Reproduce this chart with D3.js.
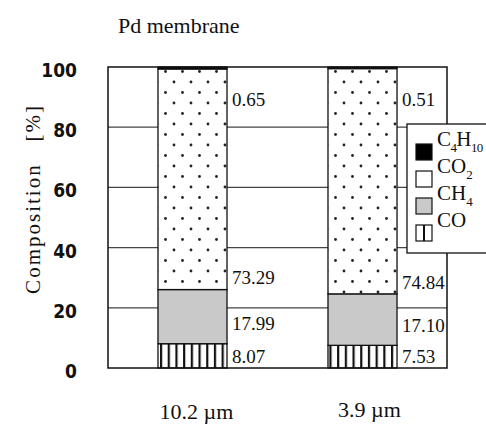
<!DOCTYPE html>
<html>
<head>
<meta charset="utf-8">
<script src="https://cdn.jsdelivr.net/npm/d3@7"></script>
<style>
  body { margin: 0; background: #fff; }
  svg { display: block; }
  .serif { font-family: "Liberation Serif", "DejaVu Serif", serif; fill: #111; }
  .tick-label { font-family: "DejaVu Sans Condensed", "Liberation Sans", Arial, sans-serif; font-weight: bold; font-size: 19px; fill: #111; }
</style>
</head>
<body>
<svg id="chart" width="486" height="430"></svg>
<script>
// data
const samples = ['10.2 \u00b5m', '3.9 \u00b5m']
const gases = ['CO', 'CH4', 'CO2', 'C4H10']
const coValues = [8.07, 7.53]
const ch4Values = [17.99, 17.10]
const co2Values = [73.29, 74.84]
const c4h10Values = [0.65, 0.51]
const yTicks = [0, 20, 40, 60, 80, 100]

const svg = d3.select('#chart')
const margin = {left: 108, right: 39, top: 67, bottom: 62}
const width = 486 - margin.left - margin.right
const height = 430 - margin.top - margin.bottom

const rows = samples.map((s, i) => ({
    sample: s,
    CO: coValues[i],
    CH4: ch4Values[i],
    CO2: co2Values[i],
    C4H10: c4h10Values[i]
}))
const stacked = d3.stack().keys(gases)(rows)

const x = d3.scaleBand()
    .domain(samples)
    .range([margin.left, margin.left + width])
    .paddingInner(0.594)
    .paddingOuter(0.294)

const y = d3.scaleLinear()
    .domain([0, 100])
    .range([margin.top + height, margin.top])

// patterns
const defs = svg.append('defs')
const dots = defs.append('pattern')
    .attr('id', 'dots')
    .attr('patternUnits', 'userSpaceOnUse')
    .attr('width', 17).attr('height', 21)
    .attr('x', x(samples[0]) + 6).attr('y', margin.top + 3)
dots.append('rect').attr('width', 17).attr('height', 21).attr('fill', '#fff')
dots.append('circle').attr('cx', 1.5).attr('cy', 1.5).attr('r', 1.4).attr('fill', '#222')
dots.append('circle').attr('cx', 10).attr('cy', 12).attr('r', 1.4).attr('fill', '#222')

const stripes = defs.append('pattern')
    .attr('id', 'stripes')
    .attr('patternUnits', 'userSpaceOnUse')
    .attr('width', 7.7).attr('height', 10)
    .attr('x', x(samples[0]) + 2)
stripes.append('rect').attr('width', 7.7).attr('height', 10).attr('fill', '#fff')
stripes.append('rect').attr('x', 0).attr('width', 2.2).attr('height', 10).attr('fill', '#111')

const legendStripe = defs.append('pattern')
    .attr('id', 'legend-stripe')
    .attr('patternUnits', 'userSpaceOnUse')
    .attr('width', 16).attr('height', 16)
    .attr('x', 416).attr('y', 0)
legendStripe.append('rect').attr('width', 16).attr('height', 16).attr('fill', '#fff')
legendStripe.append('rect').attr('x', 7).attr('width', 2).attr('height', 16).attr('fill', '#111')

const fills = {CO: 'url(#stripes)', CH4: '#c9c9c9', CO2: 'url(#dots)', C4H10: '#000'}
const legendFills = {CO: 'url(#legend-stripe)', CH4: '#c9c9c9', CO2: '#fff', C4H10: '#000'}

// gridlines
svg.append('g')
    .selectAll('line')
    .data(yTicks.filter(d => d > 0 && d < 100))
    .enter()
    .append('line')
    .attr('x1', margin.left).attr('x2', margin.left + width)
    .attr('y1', d => y(d)).attr('y2', d => y(d))
    .attr('stroke', '#444').attr('stroke-width', 1.2)

// y axis labels
const yAxis = d3.axisLeft(y).tickValues(yTicks).tickSize(0).tickPadding(31)
svg.append('g')
    .attr('transform', 'translate(' + margin.left + ',0)')
    .call(yAxis)
    .call(g => g.select('.domain').remove())
    .call(g => g.attr('font-family', null).attr('font-size', null))
    .selectAll('text')
    .attr('class', 'tick-label')
    .attr('dy', '0.5em')

// bars
svg.append('g')
    .selectAll('g')
    .data(stacked)
    .enter()
    .append('g')
    .attr('fill', d => fills[d.key])
    .selectAll('rect')
    .data(d => d)
    .enter()
    .append('rect')
    .attr('x', d => x(d.data.sample))
    .attr('width', x.bandwidth())
    .attr('y', d => y(d[1]))
    .attr('height', d => y(d[0]) - y(d[1]))
    .attr('stroke', '#111')
    .attr('stroke-width', 1.3)

// value labels
const labelShift = {CO: -12, CH4: -20, CO2: -12}
stacked.forEach(function(layer){
    svg.append('g')
        .selectAll('text')
        .data(layer)
        .enter()
        .append('text')
        .attr('class', 'serif')
        .attr('x', d => x(d.data.sample) + x.bandwidth() + 5)
        .attr('y', function(d){
            if (layer.key == 'C4H10'){
                return y(100) + 32
            }
            return y(d[0]) + labelShift[layer.key]
        })
        .attr('dy', '0.35em')
        .style('font-size', '19px')
        .text(d => (d[1] - d[0]).toFixed(2))
})

// frame
svg.append('rect')
    .attr('x', margin.left).attr('y', margin.top)
    .attr('width', width).attr('height', height)
    .attr('fill', 'none').attr('stroke', '#111').attr('stroke-width', 1.5)

// x labels
svg.append('g')
    .selectAll('text')
    .data(samples)
    .enter()
    .append('text')
    .attr('class', 'serif')
    .attr('x', (d, i) => x(d) + x.bandwidth() / 2 + (i == 0 ? 4 : 7))
    .attr('y', (d, i) => i == 0 ? 419 : 417)
    .attr('text-anchor', 'middle')
    .style('font-size', '22px')
    .text(d => d)

// title
svg.append('text')
    .attr('class', 'serif')
    .attr('x', 118).attr('y', 33)
    .style('font-size', '22px')
    .text('Pd membrane')

// y axis title
svg.append('text')
    .attr('class', 'serif')
    .attr('transform', 'translate(40,199) rotate(-90)')
    .attr('text-anchor', 'middle')
    .style('font-size', '21px')
    .style('letter-spacing', '2px')
    .text('Composition\u00a0\u00a0\u00a0[%]')

// legend
const legend = svg.append('g')
legend.append('rect')
    .attr('x', 407).attr('y', 124)
    .attr('width', 100).attr('height', 129)
    .attr('fill', '#fff').attr('stroke', '#111').attr('stroke-width', 1.3)

const legendNames = {
    C4H10: [['C', 0], ['4', 1], ['H', 0], ['10', 1]],
    CO2: [['CO', 0], ['2', 1]],
    CH4: [['CH', 0], ['4', 1]],
    CO: [['CO', 0]]
}
const legendOrder = gases.slice().reverse()
const legendItems = legend.selectAll('.legend-item')
    .data(legendOrder)
    .enter()
    .append('g')
    .attr('class', 'legend-item')
    .attr('transform', (d, i) => 'translate(416,' + (152 + i * 27) + ')')

legendItems.append('rect')
    .attr('x', 0).attr('y', -8)
    .attr('width', 16).attr('height', 16)
    .attr('fill', d => legendFills[d])
    .attr('stroke', '#111').attr('stroke-width', 1.2)

legendItems.append('text')
    .attr('class', 'serif')
    .attr('x', 21).attr('y', 0)
    .attr('dy', '0.35em')
    .style('font-size', '21px')
    .style('letter-spacing', d => d == 'C4H10' ? '-0.6px' : null)
    .each(function(d){
        const t = d3.select(this)
        legendNames[d].forEach(function(part){
            t.append('tspan')
                .attr('dy', part[1] ? 6 : (t.selectAll('tspan').size() > 0 ? -6 : 0))
                .style('font-size', part[1] ? '13px' : '21px')
                .text(part[0])
        })
    })
</script>
</body>
</html>
